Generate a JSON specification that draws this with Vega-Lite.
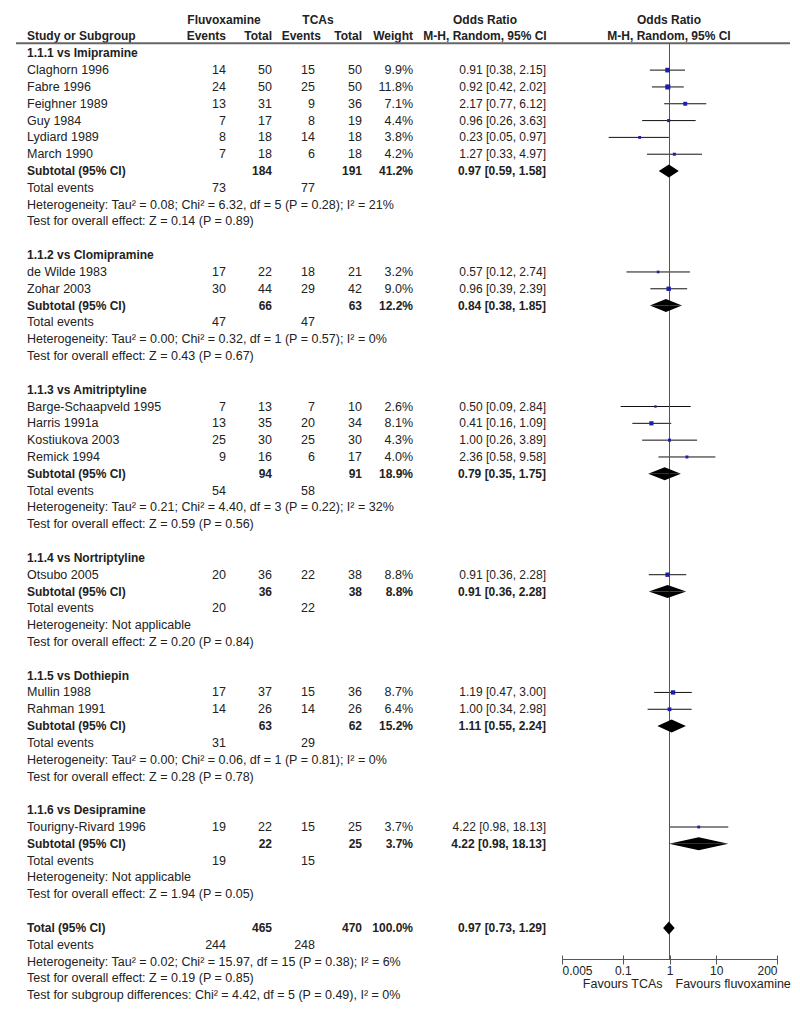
{
  "$schema": "https://vega.github.io/schema/vega-lite/v6.json",
  "width": 800,
  "height": 959,
  "autosize": {"type": "none"},
  "padding": {"left": 0, "top": 0, "right": 0, "bottom": 53},
  "background": "white",
  "config": {
    "view": {"stroke": null},
    "text": {"font": "Liberation Sans", "fontSize": 12.5, "color": "#222", "baseline": "middle"}
  },
  "datasets": {
    "table": [
      {"row": 0, "kind": "group", "name": "1.1.1 vs Imipramine"},
      {"row": 1, "kind": "study", "name": "Claghorn 1996", "e1": 14, "n1": 50, "e2": 15, "n2": 50, "w": 0.099, "ci": "0.91 [0.38, 2.15]", "or": 0.91, "lo": 0.38, "hi": 2.15},
      {"row": 2, "kind": "study", "name": "Fabre 1996", "e1": 24, "n1": 50, "e2": 25, "n2": 50, "w": 0.118, "ci": "0.92 [0.42, 2.02]", "or": 0.92, "lo": 0.42, "hi": 2.02},
      {"row": 3, "kind": "study", "name": "Feighner 1989", "e1": 13, "n1": 31, "e2": 9, "n2": 36, "w": 0.071, "ci": "2.17 [0.77, 6.12]", "or": 2.17, "lo": 0.77, "hi": 6.12},
      {"row": 4, "kind": "study", "name": "Guy 1984", "e1": 7, "n1": 17, "e2": 8, "n2": 19, "w": 0.044, "ci": "0.96 [0.26, 3.63]", "or": 0.96, "lo": 0.26, "hi": 3.63},
      {"row": 5, "kind": "study", "name": "Lydiard 1989", "e1": 8, "n1": 18, "e2": 14, "n2": 18, "w": 0.038, "ci": "0.23 [0.05, 0.97]", "or": 0.23, "lo": 0.05, "hi": 0.97},
      {"row": 6, "kind": "study", "name": "March 1990", "e1": 7, "n1": 18, "e2": 6, "n2": 18, "w": 0.042, "ci": "1.27 [0.33, 4.97]", "or": 1.27, "lo": 0.33, "hi": 4.97},
      {"row": 7, "kind": "sub", "name": "Subtotal (95% CI)", "n1": 184, "n2": 191, "w": 0.412, "ci": "0.97 [0.59, 1.58]", "or": 0.97, "lo": 0.59, "hi": 1.58},
      {"row": 8, "kind": "ev", "name": "Total events", "e1": 73, "e2": 77},
      {"row": 9, "kind": "het", "name": "Heterogeneity: Tau² = 0.08; Chi² = 6.32, df = 5 (P = 0.28); I² = 21%"},
      {"row": 10, "kind": "test", "name": "Test for overall effect: Z = 0.14 (P = 0.89)"},
      {"row": 12, "kind": "group", "name": "1.1.2 vs Clomipramine"},
      {"row": 13, "kind": "study", "name": "de Wilde 1983", "e1": 17, "n1": 22, "e2": 18, "n2": 21, "w": 0.032, "ci": "0.57 [0.12, 2.74]", "or": 0.57, "lo": 0.12, "hi": 2.74},
      {"row": 14, "kind": "study", "name": "Zohar 2003", "e1": 30, "n1": 44, "e2": 29, "n2": 42, "w": 0.09, "ci": "0.96 [0.39, 2.39]", "or": 0.96, "lo": 0.39, "hi": 2.39},
      {"row": 15, "kind": "sub", "name": "Subtotal (95% CI)", "n1": 66, "n2": 63, "w": 0.122, "ci": "0.84 [0.38, 1.85]", "or": 0.84, "lo": 0.38, "hi": 1.85},
      {"row": 16, "kind": "ev", "name": "Total events", "e1": 47, "e2": 47},
      {"row": 17, "kind": "het", "name": "Heterogeneity: Tau² = 0.00; Chi² = 0.32, df = 1 (P = 0.57); I² = 0%"},
      {"row": 18, "kind": "test", "name": "Test for overall effect: Z = 0.43 (P = 0.67)"},
      {"row": 20, "kind": "group", "name": "1.1.3 vs Amitriptyline"},
      {"row": 21, "kind": "study", "name": "Barge-Schaapveld 1995", "e1": 7, "n1": 13, "e2": 7, "n2": 10, "w": 0.026, "ci": "0.50 [0.09, 2.84]", "or": 0.5, "lo": 0.09, "hi": 2.84},
      {"row": 22, "kind": "study", "name": "Harris 1991a", "e1": 13, "n1": 35, "e2": 20, "n2": 34, "w": 0.081, "ci": "0.41 [0.16, 1.09]", "or": 0.41, "lo": 0.16, "hi": 1.09},
      {"row": 23, "kind": "study", "name": "Kostiukova 2003", "e1": 25, "n1": 30, "e2": 25, "n2": 30, "w": 0.043, "ci": "1.00 [0.26, 3.89]", "or": 1.0, "lo": 0.26, "hi": 3.89},
      {"row": 24, "kind": "study", "name": "Remick 1994", "e1": 9, "n1": 16, "e2": 6, "n2": 17, "w": 0.04, "ci": "2.36 [0.58, 9.58]", "or": 2.36, "lo": 0.58, "hi": 9.58},
      {"row": 25, "kind": "sub", "name": "Subtotal (95% CI)", "n1": 94, "n2": 91, "w": 0.189, "ci": "0.79 [0.35, 1.75]", "or": 0.79, "lo": 0.35, "hi": 1.75},
      {"row": 26, "kind": "ev", "name": "Total events", "e1": 54, "e2": 58},
      {"row": 27, "kind": "het", "name": "Heterogeneity: Tau² = 0.21; Chi² = 4.40, df = 3 (P = 0.22); I² = 32%"},
      {"row": 28, "kind": "test", "name": "Test for overall effect: Z = 0.59 (P = 0.56)"},
      {"row": 30, "kind": "group", "name": "1.1.4 vs Nortriptyline"},
      {"row": 31, "kind": "study", "name": "Otsubo 2005", "e1": 20, "n1": 36, "e2": 22, "n2": 38, "w": 0.088, "ci": "0.91 [0.36, 2.28]", "or": 0.91, "lo": 0.36, "hi": 2.28},
      {"row": 32, "kind": "sub", "name": "Subtotal (95% CI)", "n1": 36, "n2": 38, "w": 0.088, "ci": "0.91 [0.36, 2.28]", "or": 0.91, "lo": 0.36, "hi": 2.28},
      {"row": 33, "kind": "ev", "name": "Total events", "e1": 20, "e2": 22},
      {"row": 34, "kind": "het", "name": "Heterogeneity: Not applicable"},
      {"row": 35, "kind": "test", "name": "Test for overall effect: Z = 0.20 (P = 0.84)"},
      {"row": 37, "kind": "group", "name": "1.1.5 vs Dothiepin"},
      {"row": 38, "kind": "study", "name": "Mullin 1988", "e1": 17, "n1": 37, "e2": 15, "n2": 36, "w": 0.087, "ci": "1.19 [0.47, 3.00]", "or": 1.19, "lo": 0.47, "hi": 3.0},
      {"row": 39, "kind": "study", "name": "Rahman 1991", "e1": 14, "n1": 26, "e2": 14, "n2": 26, "w": 0.064, "ci": "1.00 [0.34, 2.98]", "or": 1.0, "lo": 0.34, "hi": 2.98},
      {"row": 40, "kind": "sub", "name": "Subtotal (95% CI)", "n1": 63, "n2": 62, "w": 0.152, "ci": "1.11 [0.55, 2.24]", "or": 1.11, "lo": 0.55, "hi": 2.24},
      {"row": 41, "kind": "ev", "name": "Total events", "e1": 31, "e2": 29},
      {"row": 42, "kind": "het", "name": "Heterogeneity: Tau² = 0.00; Chi² = 0.06, df = 1 (P = 0.81); I² = 0%"},
      {"row": 43, "kind": "test", "name": "Test for overall effect: Z = 0.28 (P = 0.78)"},
      {"row": 45, "kind": "group", "name": "1.1.6 vs Desipramine"},
      {"row": 46, "kind": "study", "name": "Tourigny-Rivard 1996", "e1": 19, "n1": 22, "e2": 15, "n2": 25, "w": 0.037, "ci": "4.22 [0.98, 18.13]", "or": 4.22, "lo": 0.98, "hi": 18.13},
      {"row": 47, "kind": "sub", "name": "Subtotal (95% CI)", "n1": 22, "n2": 25, "w": 0.037, "ci": "4.22 [0.98, 18.13]", "or": 4.22, "lo": 0.98, "hi": 18.13},
      {"row": 48, "kind": "ev", "name": "Total events", "e1": 19, "e2": 15},
      {"row": 49, "kind": "het", "name": "Heterogeneity: Not applicable"},
      {"row": 50, "kind": "test", "name": "Test for overall effect: Z = 1.94 (P = 0.05)"},
      {"row": 52, "kind": "tot", "name": "Total (95% CI)", "n1": 465, "n2": 470, "w": 1.0, "ci": "0.97 [0.73, 1.29]", "or": 0.97, "lo": 0.73, "hi": 1.29},
      {"row": 53, "kind": "ev", "name": "Total events", "e1": 244, "e2": 248},
      {"row": 54, "kind": "het", "name": "Heterogeneity: Tau² = 0.02; Chi² = 15.97, df = 15 (P = 0.38); I² = 6%"},
      {"row": 55, "kind": "test", "name": "Test for overall effect: Z = 0.19 (P = 0.85)"},
      {"row": 56, "kind": "test", "name": "Test for subgroup differences: Chi² = 4.42, df = 5 (P = 0.49), I² = 0%"}
    ],
    "heads": [
      {"row": -2, "col": 8, "label": "Fluvoxamine"},
      {"row": -2, "col": 9, "label": "TCAs"},
      {"row": -2, "col": 10, "label": "Odds Ratio"},
      {"row": -2, "col": 11, "label": "Odds Ratio"},
      {"row": -1, "col": 1, "label": "Study or Subgroup"},
      {"row": -1, "col": 2, "label": "Events"},
      {"row": -1, "col": 3, "label": "Total"},
      {"row": -1, "col": 13, "label": "Events"},
      {"row": -1, "col": 5, "label": "Total"},
      {"row": -1, "col": 6, "label": "Weight"},
      {"row": -1, "col": 10, "label": "M-H, Random, 95% CI"},
      {"row": -1, "col": 11, "label": "M-H, Random, 95% CI"}
    ]
  },
  "layer": [
    {
      "layer": [
        {
          "data": {"name": "table"},
          "transform": [{"filter": {"field": "kind", "oneOf": ["study", "ev", "het", "test"]}}],
          "mark": {"type": "text", "align": "left"},
          "encoding": {
            "x": {"datum": 1, "type": "quantitative", "axis": null,
                  "scale": {"type": "linear", "zero": false, "nice": false,
                            "domain": [0, 1, 2, 3, 4, 5, 6, 7, 8, 9, 10, 11, 12, 13],
                            "range": [16, 27, 226, 272, 315, 362, 413, 546, 224, 318, 485, 669, 790, 321]}},
            "y": {"field": "row", "type": "quantitative", "axis": null,
                  "scale": {"zero": false, "nice": false, "domain": [0, 56], "range": [53.3, 995.2]}},
            "text": {"field": "name"}
          }
        },
        {
          "data": {"name": "table"},
          "transform": [{"filter": {"field": "kind", "oneOf": ["group", "sub", "tot"]}}],
          "mark": {"type": "text", "align": "left", "fontWeight": "bold", "fontSize": 12},
          "encoding": {
            "x": {"datum": 1, "type": "quantitative", "axis": null},
            "y": {"field": "row", "type": "quantitative", "axis": null},
            "text": {"field": "name"}
          }
        },
        {
          "data": {"name": "table"},
          "transform": [{"filter": "isValid(datum.e1)"}],
          "mark": {"type": "text", "align": "right"},
          "encoding": {
            "x": {"datum": 2, "type": "quantitative", "axis": null},
            "y": {"field": "row", "type": "quantitative", "axis": null},
            "text": {"field": "e1", "type": "quantitative"}
          }
        },
        {
          "data": {"name": "table"},
          "transform": [{"filter": "isValid(datum.e2)"}],
          "mark": {"type": "text", "align": "right"},
          "encoding": {
            "x": {"datum": 4, "type": "quantitative", "axis": null},
            "y": {"field": "row", "type": "quantitative", "axis": null},
            "text": {"field": "e2", "type": "quantitative"}
          }
        },
        {
          "data": {"name": "table"},
          "transform": [{"filter": {"field": "kind", "equal": "study"}}],
          "mark": {"type": "text", "align": "right"},
          "encoding": {
            "x": {"datum": 3, "type": "quantitative", "axis": null},
            "y": {"field": "row", "type": "quantitative", "axis": null},
            "text": {"field": "n1", "type": "quantitative"}
          }
        },
        {
          "data": {"name": "table"},
          "transform": [{"filter": {"field": "kind", "oneOf": ["sub", "tot"]}}],
          "mark": {"type": "text", "align": "right", "fontWeight": "bold", "fontSize": 12},
          "encoding": {
            "x": {"datum": 3, "type": "quantitative", "axis": null},
            "y": {"field": "row", "type": "quantitative", "axis": null},
            "text": {"field": "n1", "type": "quantitative"}
          }
        },
        {
          "data": {"name": "table"},
          "transform": [{"filter": {"field": "kind", "equal": "study"}}],
          "mark": {"type": "text", "align": "right"},
          "encoding": {
            "x": {"datum": 5, "type": "quantitative", "axis": null},
            "y": {"field": "row", "type": "quantitative", "axis": null},
            "text": {"field": "n2", "type": "quantitative"}
          }
        },
        {
          "data": {"name": "table"},
          "transform": [{"filter": {"field": "kind", "oneOf": ["sub", "tot"]}}],
          "mark": {"type": "text", "align": "right", "fontWeight": "bold", "fontSize": 12},
          "encoding": {
            "x": {"datum": 5, "type": "quantitative", "axis": null},
            "y": {"field": "row", "type": "quantitative", "axis": null},
            "text": {"field": "n2", "type": "quantitative"}
          }
        },
        {
          "data": {"name": "table"},
          "transform": [{"filter": {"field": "kind", "equal": "study"}}],
          "mark": {"type": "text", "align": "right"},
          "encoding": {
            "x": {"datum": 6, "type": "quantitative", "axis": null},
            "y": {"field": "row", "type": "quantitative", "axis": null},
            "text": {"field": "w", "type": "quantitative", "format": ".1%"}
          }
        },
        {
          "data": {"name": "table"},
          "transform": [{"filter": {"field": "kind", "oneOf": ["sub", "tot"]}}],
          "mark": {"type": "text", "align": "right", "fontWeight": "bold", "fontSize": 12},
          "encoding": {
            "x": {"datum": 6, "type": "quantitative", "axis": null},
            "y": {"field": "row", "type": "quantitative", "axis": null},
            "text": {"field": "w", "type": "quantitative", "format": ".1%"}
          }
        },
        {
          "data": {"name": "table"},
          "transform": [{"filter": {"field": "kind", "equal": "study"}}],
          "mark": {"type": "text", "align": "right", "fontSize": 12},
          "encoding": {
            "x": {"datum": 7, "type": "quantitative", "axis": null},
            "y": {"field": "row", "type": "quantitative", "axis": null},
            "text": {"field": "ci"}
          }
        },
        {
          "data": {"name": "table"},
          "transform": [{"filter": {"field": "kind", "oneOf": ["sub", "tot"]}}],
          "mark": {"type": "text", "align": "right", "fontWeight": "bold", "fontSize": 12},
          "encoding": {
            "x": {"datum": 7, "type": "quantitative", "axis": null},
            "y": {"field": "row", "type": "quantitative", "axis": null},
            "text": {"field": "ci"}
          }
        },
        {
          "data": {"name": "heads"},
          "transform": [{"filter": "datum.col == 1"}],
          "mark": {"type": "text", "align": "left", "fontWeight": "bold", "fontSize": 12},
          "encoding": {
            "x": {"field": "col", "type": "quantitative", "axis": null},
            "y": {"field": "row", "type": "quantitative", "axis": null},
            "text": {"field": "label"}
          }
        },
        {
          "data": {"name": "heads"},
          "transform": [{"filter": "(datum.col >= 2 && datum.col <= 7) || datum.col == 13"}],
          "mark": {"type": "text", "align": "right", "fontWeight": "bold", "fontSize": 12},
          "encoding": {
            "x": {"field": "col", "type": "quantitative", "axis": null},
            "y": {"field": "row", "type": "quantitative", "axis": null},
            "text": {"field": "label"}
          }
        },
        {
          "data": {"name": "heads"},
          "transform": [{"filter": "datum.col >= 8 && datum.col <= 11"}],
          "mark": {"type": "text", "align": "center", "fontWeight": "bold", "fontSize": 12},
          "encoding": {
            "x": {"field": "col", "type": "quantitative", "axis": null},
            "y": {"field": "row", "type": "quantitative", "axis": null},
            "text": {"field": "label"}
          }
        },
        {
          "data": {"values": [{"line": "header"}]},
          "mark": {"type": "rule", "color": "#666", "strokeWidth": 2},
          "encoding": {
            "x": {"datum": 0, "type": "quantitative", "axis": null},
            "x2": {"datum": 12},
            "y": {"datum": -0.6, "type": "quantitative", "axis": null}
          }
        }
      ]
    },
    {
      "data": {"name": "table"},
      "transform": [{"filter": {"field": "kind", "equal": "study"}}],
      "mark": {"type": "rule", "color": "#111", "strokeWidth": 1},
      "encoding": {
        "x": {"field": "lo", "type": "quantitative",
              "scale": {"type": "log", "domain": [0.005, 200], "range": [562, 777], "nice": false},
              "axis": {"orient": "bottom", "values": [0.005, 0.1, 1, 10, 200], "format": "~g", "title": null, "grid": false,
                       "domainColor": "#555", "tickColor": "#555", "tickSize": 5, "domainWidth": 1,
                       "labelFont": "Liberation Sans", "labelFontSize": 12, "labelColor": "#222",
                       "labelPadding": 1, "labelFlush": true, "labelOverlap": false}},
        "x2": {"field": "hi"},
        "y": {"field": "row", "type": "quantitative", "axis": null,
              "scale": {"zero": false, "nice": false, "domain": [0, 56], "range": [53.3, 995.2]}}
      }
    },
    {
      "data": {"values": [{"line": "no effect"}]},
      "mark": {"type": "rule", "color": "#555", "strokeWidth": 1},
      "encoding": {
        "x": {"datum": 1, "type": "quantitative",
              "scale": {"type": "log", "domain": [0.005, 200], "range": [562, 777], "nice": false},
              "axis": {"orient": "bottom", "offset": -4, "values": [0.005, 0.1, 1, 10, 200], "title": null, "grid": false,
                       "domain": false, "labels": false, "tickColor": "#555", "tickSize": 4}},
        "y": {"datum": -0.6, "type": "quantitative", "axis": null,
              "scale": {"zero": false, "nice": false, "domain": [0, 56], "range": [53.3, 995.2]}},
        "y2": {"datum": 53.85}
      }
    },
    {
      "data": {"name": "table"},
      "transform": [{"filter": {"field": "kind", "equal": "study"}}],
      "mark": {"type": "square", "color": "#1e1ea8", "opacity": 1, "filled": true},
      "encoding": {
        "x": {"field": "or", "type": "quantitative", "axis": null,
              "scale": {"type": "log", "domain": [0.005, 200], "range": [562, 777], "nice": false}},
        "y": {"field": "row", "type": "quantitative", "axis": null,
              "scale": {"zero": false, "nice": false, "domain": [0, 56], "range": [53.3, 995.2]}},
        "size": {"field": "w", "type": "quantitative", "legend": null,
                 "scale": {"domain": [0, 0.12], "range": [0, 26], "zero": true}}
      }
    },
    {
      "data": {"values": [{"label": "Favours TCAs"}]},
      "mark": {"type": "text", "align": "right", "dx": -7},
      "encoding": {
        "x": {"datum": 1, "type": "quantitative", "axis": null,
              "scale": {"type": "log", "domain": [0.005, 200], "range": [562, 777], "nice": false}},
        "y": {"datum": 55.35, "type": "quantitative", "axis": null,
              "scale": {"zero": false, "nice": false, "domain": [0, 56], "range": [53.3, 995.2]}},
        "text": {"field": "label"}
      }
    },
    {
      "data": {"values": [{"label": "Favours fluvoxamine"}]},
      "mark": {"type": "text", "align": "left", "dx": 6},
      "encoding": {
        "x": {"datum": 1, "type": "quantitative", "axis": null,
              "scale": {"type": "log", "domain": [0.005, 200], "range": [562, 777], "nice": false}},
        "y": {"datum": 55.35, "type": "quantitative", "axis": null,
              "scale": {"zero": false, "nice": false, "domain": [0, 56], "range": [53.3, 995.2]}},
        "text": {"field": "label"}
      }
    },
    {
      "layer": [
        {
          "data": {"name": "table"},
          "transform": [
            {"filter": {"field": "kind", "oneOf": ["sub", "tot"]}},
            {"fold": ["lo", "or", "hi"], "as": ["k", "v"]},
            {"window": [{"op": "row_number", "as": "i"}], "groupby": ["row"], "sort": [{"field": "v", "order": "ascending"}]}
          ],
          "mark": {"type": "area", "orient": "vertical", "color": "#000", "opacity": 1},
          "encoding": {
            "x": {"field": "v", "type": "quantitative", "axis": null,
                  "scale": {"type": "log", "domain": [0.005, 200], "range": [562, 777], "nice": false}},
            "y": {"field": "row", "type": "ordinal", "axis": null,
                  "scale": {"type": "point", "padding": 0, "range": [53.3, 995.2],
                            "domain": [0, 1, 2, 3, 4, 5, 6, 7, 8, 9, 10, 11, 12, 13, 14, 15, 16, 17, 18, 19, 20, 21, 22, 23, 24, 25, 26, 27, 28, 29, 30, 31, 32, 33, 34, 35, 36, 37, 38, 39, 40, 41, 42, 43, 44, 45, 46, 47, 48, 49, 50, 51, 52, 53, 54, 55, 56]}},
            "y2": {"field": "row"},
            "yOffset": {"field": "i", "type": "quantitative", "scale": {"domain": [1, 2, 3], "range": [0, -6.5, 0]}},
            "detail": {"field": "row", "type": "nominal"}
          }
        },
        {
          "data": {"name": "table"},
          "transform": [
            {"filter": {"field": "kind", "oneOf": ["sub", "tot"]}},
            {"fold": ["lo", "or", "hi"], "as": ["k", "v"]},
            {"window": [{"op": "row_number", "as": "i"}], "groupby": ["row"], "sort": [{"field": "v", "order": "ascending"}]}
          ],
          "mark": {"type": "area", "orient": "vertical", "color": "#000", "opacity": 1},
          "encoding": {
            "x": {"field": "v", "type": "quantitative", "axis": null},
            "y": {"field": "row", "type": "ordinal", "axis": null},
            "y2": {"field": "row"},
            "yOffset": {"field": "i", "type": "quantitative", "scale": {"domain": [1, 2, 3], "range": [0, 6.5, 0]}},
            "detail": {"field": "row", "type": "nominal"}
          }
        }
      ],
      "resolve": {"scale": {"yOffset": "independent"}}
    }
  ],
  "resolve": {"scale": {"x": "independent", "y": "independent"}}
}
